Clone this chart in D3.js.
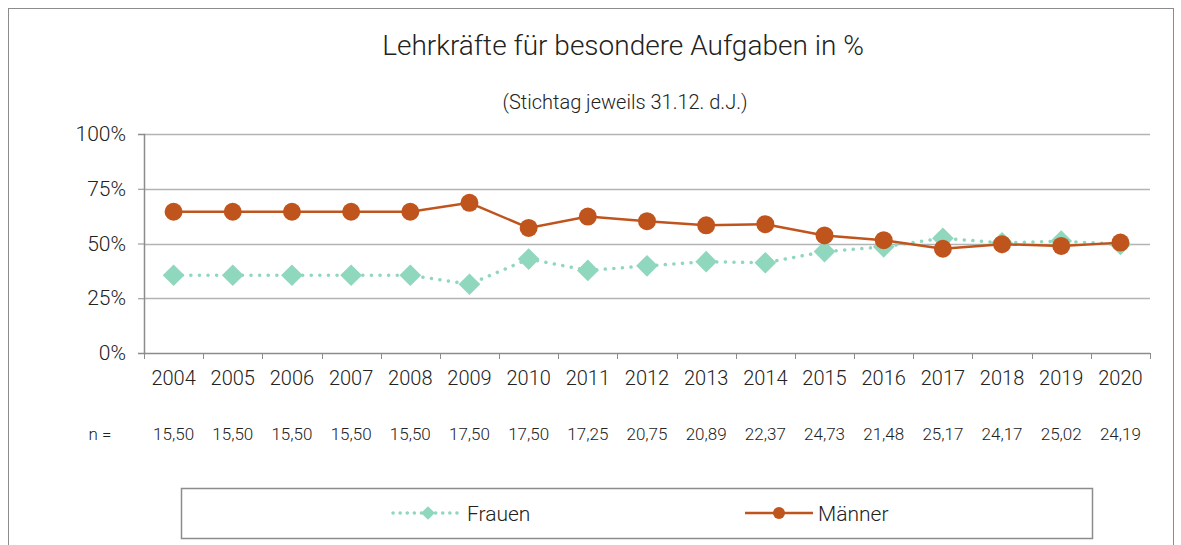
<!DOCTYPE html>
<html>
<head>
<meta charset="utf-8">
<script src="https://cdn.jsdelivr.net/npm/d3@7"></script>
<style>
  body { margin: 0; background: #fff; }
  text { font-family: "Roboto", "Open Sans", sans-serif; font-weight: 300; fill: #222; }
</style>
</head>
<body>
<div id="chart"></div>
<script>
// Daten
var years = ["2004", "2005", "2006", "2007", "2008", "2009", "2010", "2011", "2012",
    "2013", "2014", "2015", "2016", "2017", "2018", "2019", "2020"];
var frauen = [35.5, 35.5, 35.5, 35.5, 35.5, 31.4, 42.9, 37.7, 39.8, 41.7, 41.2, 46.3, 48.5, 52.4, 50.3, 51.1, 49.6];
var maenner = [64.5, 64.5, 64.5, 64.5, 64.5, 68.6, 57.1, 62.3, 60.2, 58.3, 58.8, 53.7, 51.5, 47.6, 49.7, 48.9, 50.4];
var nValues = ["15,50", "15,50", "15,50", "15,50", "15,50", "17,50", "17,50", "17,25", "20,75",
    "20,89", "22,37", "24,73", "21,48", "25,17", "24,17", "25,02", "24,19"];
var yTicks = [0, 25, 50, 75, 100];

var svgWidth = 1181;
var svgHeight = 545;
var margin = { top: 134, left: 144, right: 31, bottom: 192 };
var width = svgWidth - margin.left - margin.right;
var height = svgHeight - margin.top - margin.bottom;

var colorF = "#8fd7bd";
var colorM = "#c0541d";

var svg = d3.select("#chart")
    .append("svg")
    .attr("width", svgWidth)
    .attr("height", svgHeight);

// Rahmen
svg.append("rect")
    .attr("x", 8.5).attr("y", 8.5)
    .attr("width", 1165).attr("height", 560)
    .attr("fill", "none")
    .attr("stroke", "#8c8c8c");

svg.append("text")
    .attr("x", 623).attr("y", 55)
    .attr("text-anchor", "middle")
    .style("font-size", "28px")
    .text("Lehrkräfte für besondere Aufgaben in %");

svg.append("text")
    .attr("x", 625).attr("y", 109)
    .attr("text-anchor", "middle")
    .style("font-size", "20px")
    .text("(Stichtag jeweils 31.12. d.J.)");

var chartGroup = svg.append("g")
    .attr("transform", `translate(${margin.left}, ${margin.top})`);

var xScale = d3.scaleBand()
    .domain(years)
    .range([0, width]);

var yScale = d3.scaleLinear()
    .domain([0, 100])
    .range([height, 0]);

// Gitterlinien
chartGroup.append("g")
    .selectAll("line")
    .data(yTicks.filter(d => d > 0))
    .enter()
    .append("line")
    .attr("x1", 0).attr("x2", width)
    .attr("y1", d => Math.round(yScale(d)) + 0.5)
    .attr("y2", d => Math.round(yScale(d)) + 0.5)
    .attr("stroke", "#b3b3b3")
    .attr("stroke-width", 1.5);

// Y-Achse
var leftAxis = d3.axisLeft(yScale)
    .tickValues(yTicks)
    .tickFormat(d => d + "%")
    .tickSize(6)
    .tickPadding(12);

var yAxis = chartGroup.append("g").call(leftAxis);
yAxis.select(".domain").attr("stroke", "#8c8c8c").attr("stroke-width", 1.5);
yAxis.selectAll(".tick line").attr("stroke", "#8c8c8c");
yAxis.selectAll("text").style("font-size", "21px").attr("fill", "#333");

// X-Achse
chartGroup.append("line")
    .attr("x1", 0).attr("x2", width)
    .attr("y1", height + 0.5).attr("y2", height + 0.5)
    .attr("stroke", "#8c8c8c").attr("stroke-width", 1.5);

chartGroup.append("g")
    .selectAll("line")
    .data(years.concat(["end"]))
    .enter()
    .append("line")
    .attr("x1", (d, i) => Math.round(i * xScale.bandwidth()) + 0.5)
    .attr("x2", (d, i) => Math.round(i * xScale.bandwidth()) + 0.5)
    .attr("y1", height).attr("y2", height + 6)
    .attr("stroke", "#8c8c8c");

var bottomAxis = d3.axisBottom(xScale).tickSize(0).tickPadding(18);
var xAxis = chartGroup.append("g")
    .attr("transform", `translate(0, ${height})`)
    .call(bottomAxis);
xAxis.select(".domain").remove();
xAxis.selectAll("text").style("font-size", "20px").attr("fill", "#333");

// n-Zeile
chartGroup.append("text")
    .attr("x", -44).attr("y", height + 87)
    .attr("text-anchor", "middle")
    .style("font-size", "17px")
    .text("n =");

chartGroup.selectAll(".nval")
    .data(nValues)
    .enter()
    .append("text")
    .attr("class", "nval")
    .attr("x", (d, i) => xScale(years[i]) + xScale.bandwidth() / 2)
    .attr("y", height + 87)
    .attr("text-anchor", "middle")
    .style("font-size", "17px")
    .text(d => d);

var cx = i => xScale(years[i]) + xScale.bandwidth() / 2;

var line = d3.line()
    .x((d, i) => cx(i))
    .y(d => yScale(d));

// Frauen
chartGroup.append("path")
    .datum(frauen)
    .attr("d", line)
    .attr("fill", "none")
    .attr("stroke", colorF)
    .attr("stroke-width", 3.5)
    .attr("stroke-linecap", "round")
    .attr("stroke-dasharray", "0.1 8.5");

var diamond = d3.symbol().type(d3.symbolDiamond2).size(300);
chartGroup.selectAll(".fmark")
    .data(frauen)
    .enter()
    .append("path")
    .attr("class", "fmark")
    .attr("d", diamond)
    .attr("transform", (d, i) => `translate(${cx(i)}, ${yScale(d)})`)
    .attr("fill", colorF);

// Männer
chartGroup.append("path")
    .datum(maenner)
    .attr("d", line)
    .attr("fill", "none")
    .attr("stroke", colorM)
    .attr("stroke-width", 2.5);

chartGroup.selectAll(".mmark")
    .data(maenner)
    .enter()
    .append("circle")
    .attr("class", "mmark")
    .attr("cx", (d, i) => cx(i))
    .attr("cy", d => yScale(d))
    .attr("r", 9)
    .attr("fill", colorM);

// Legende
var legend = svg.append("g");
legend.append("rect")
    .attr("x", 181.5).attr("y", 488.5)
    .attr("width", 911).attr("height", 50)
    .attr("fill", "none")
    .attr("stroke", "#8c8c8c")
    .attr("stroke-width", 1.5);

legend.append("line")
    .attr("x1", 393).attr("x2", 462)
    .attr("y1", 513).attr("y2", 513)
    .attr("stroke", colorF)
    .attr("stroke-width", 3.5)
    .attr("stroke-linecap", "round")
    .attr("stroke-dasharray", "0.1 7");
legend.append("path")
    .attr("d", d3.symbol().type(d3.symbolDiamond2).size(120))
    .attr("transform", "translate(428, 513)")
    .attr("fill", colorF);
legend.append("text")
    .attr("x", 467).attr("y", 521)
    .style("font-size", "21px")
    .text("Frauen");

legend.append("line")
    .attr("x1", 745).attr("x2", 813)
    .attr("y1", 513).attr("y2", 513)
    .attr("stroke", colorM)
    .attr("stroke-width", 2.5);
legend.append("circle")
    .attr("cx", 779).attr("cy", 513).attr("r", 6)
    .attr("fill", colorM);
legend.append("text")
    .attr("x", 818).attr("y", 521)
    .style("font-size", "21px")
    .text("Männer");
</script>
</body>
</html>
